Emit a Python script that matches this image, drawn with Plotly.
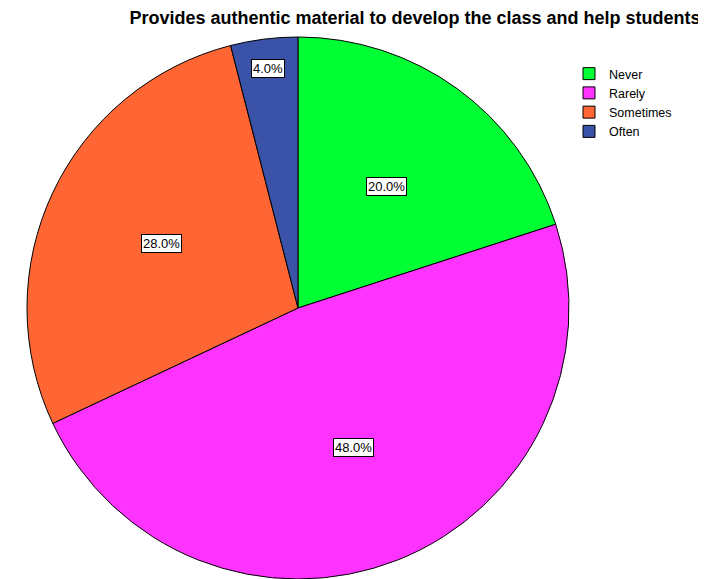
import math
import plotly.graph_objects as go

# ---- data ----
categories = ["Never", "Rarely", "Sometimes", "Often"]
values = [20.0, 48.0, 28.0, 4.0]
colors = ["#00FF33", "#FF33FF", "#FF6633", "#3A52A8"]
title_text = "Provides authentic material to develop the class and help students"

W, H = 706, 579
# pie geometry in figure pixels (domain chosen so pie is centred here)
cx, cy = 290.0, 300.0
R = 271.0
dom_x = [(cx - R - 10) / W, (cx + R + 10) / W]
dom_y = [(H - (cy + R)) / H, (H - (cy - R)) / H]

fig = go.Figure()
fig.add_trace(go.Pie(
    labels=categories,
    values=values,
    sort=False,
    direction="clockwise",
    rotation=0,
    marker=dict(colors=colors, line=dict(color="#000000", width=1)),
    textinfo="none",
    hoverinfo="label+percent",
    domain=dict(x=dom_x, y=dom_y),
))

# boxed percentage labels placed at each slice's mid-angle
total = sum(values)
cum = 0.0
for v in values:
    mid = (cum + v / 2) / total * 2 * math.pi
    cum += v
    frac = 0.89 if v / total < 0.05 else 0.555
    px = cx + frac * R * math.sin(mid)
    py = cy - frac * R * math.cos(mid)
    fig.add_annotation(
        x=px / W, y=1 - py / H, xref="paper", yref="paper",
        text=f"{v / total * 100:.1f}%", showarrow=False,
        font=dict(family="Liberation Sans, Arial, sans-serif", size=13, color="#000000"),
        bgcolor="#FFFFFF", bordercolor="#000000", borderwidth=1, borderpad=1,
        xanchor="center", yanchor="middle",
    )

fig.update_layout(
    width=W, height=H,
    margin=dict(l=0, r=0, t=0, b=0),
    paper_bgcolor="#FFFFFF",
    plot_bgcolor="#FFFFFF",
    title=dict(
        text=f"<b>{title_text}</b>",
        x=407 / W, xanchor="center",
        y=1 - 10 / H, yanchor="middle",
        font=dict(family="Liberation Sans, Arial, sans-serif", size=18, color="#000000"),
    ),
    legend=dict(
        x=561 / W, xanchor="left",
        y=1 - 51 / H, yanchor="top",
        font=dict(family="Liberation Sans, Arial, sans-serif", size=12.5, color="#000000"),
        bgcolor="rgba(0,0,0,0)",
        itemwidth=30,
        tracegroupgap=0,
    ),
)

fig.write_html("out.html")
